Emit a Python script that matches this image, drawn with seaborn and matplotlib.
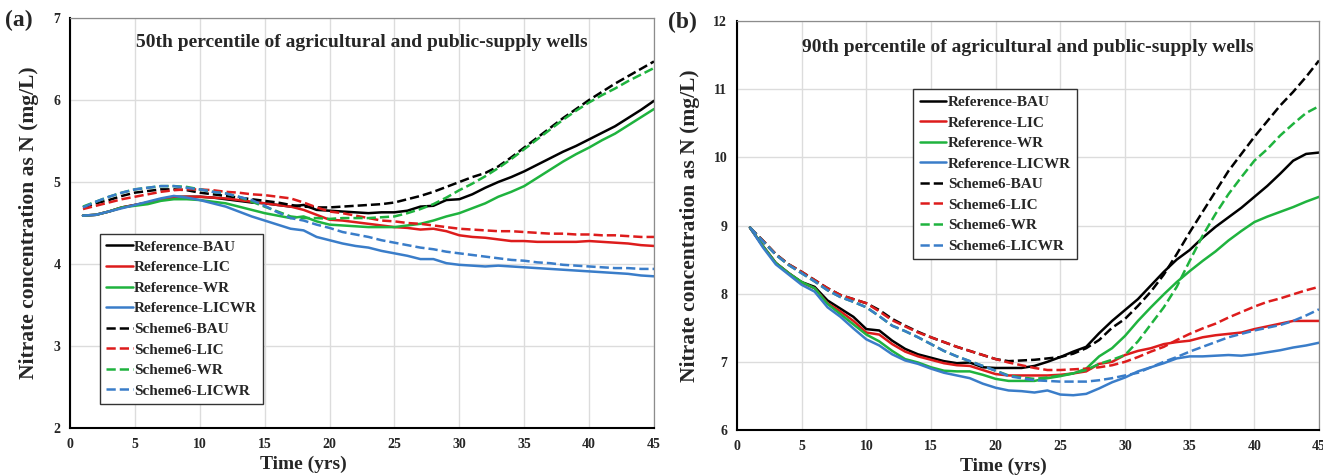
import numpy as np
import pandas as pd
import matplotlib
matplotlib.use("Agg")
import matplotlib.pyplot as plt
from matplotlib.ticker import MultipleLocator
import seaborn as sns

sns.set_style("white")
plt.rcParams['font.family'] = ['Liberation Serif', 'DejaVu Serif']
plt.rcParams['font.weight'] = 'bold'

years = list(range(1, 46))

series_names = ["Reference-BAU", "Reference-LIC", "Reference-WR", "Reference-LICWR",
                "Scheme6-BAU", "Scheme6-LIC", "Scheme6-WR", "Scheme6-LICWR"]

# ---- Panel (a): 50th percentile ----
a_ref_bau = [4.59, 4.60, 4.64, 4.69, 4.72, 4.75, 4.79, 4.82, 4.82, 4.82, 4.81, 4.79, 4.77, 4.75, 4.74,
             4.72, 4.70, 4.72, 4.66, 4.65, 4.64, 4.63, 4.62, 4.63, 4.63, 4.65, 4.70, 4.71, 4.78, 4.79,
             4.85, 4.93, 5.00, 5.06, 5.13, 5.21, 5.29, 5.37, 5.44, 5.52, 5.60, 5.68, 5.78, 5.88, 5.99]
a_ref_lic = [4.59, 4.60, 4.64, 4.69, 4.72, 4.75, 4.79, 4.81, 4.82, 4.82, 4.81, 4.80, 4.78, 4.76, 4.74,
             4.72, 4.70, 4.66, 4.60, 4.54, 4.53, 4.51, 4.49, 4.47, 4.45, 4.44, 4.42, 4.43, 4.40, 4.35,
             4.33, 4.32, 4.30, 4.28, 4.28, 4.27, 4.27, 4.27, 4.27, 4.28, 4.27, 4.26, 4.25, 4.23, 4.22]
a_ref_wr = [4.59, 4.60, 4.64, 4.69, 4.71, 4.73, 4.77, 4.79, 4.79, 4.78, 4.76, 4.74, 4.70, 4.66, 4.62,
            4.59, 4.56, 4.58, 4.52, 4.48, 4.47, 4.46, 4.45, 4.45, 4.45, 4.47, 4.49, 4.53, 4.58, 4.62,
            4.68, 4.74, 4.82, 4.88, 4.95, 5.05, 5.15, 5.25, 5.34, 5.42, 5.51, 5.59, 5.69, 5.79, 5.89]
a_ref_licwr = [4.59, 4.60, 4.64, 4.68, 4.72, 4.76, 4.80, 4.83, 4.81, 4.78, 4.74, 4.70, 4.64, 4.58, 4.53,
               4.48, 4.43, 4.41, 4.33, 4.29, 4.25, 4.22, 4.20, 4.16, 4.13, 4.10, 4.06, 4.06, 4.01, 3.99,
               3.98, 3.97, 3.98, 3.97, 3.96, 3.95, 3.94, 3.93, 3.92, 3.91, 3.90, 3.89, 3.88, 3.86, 3.85]
a_s6_bau = [4.69, 4.74, 4.78, 4.83, 4.87, 4.89, 4.91, 4.91, 4.90, 4.87, 4.85, 4.83, 4.81, 4.79, 4.77,
            4.75, 4.72, 4.70, 4.69, 4.69, 4.70, 4.71, 4.72, 4.73, 4.75, 4.79, 4.83, 4.88, 4.94, 5.00,
            5.06, 5.11, 5.19, 5.30, 5.42, 5.54, 5.66, 5.78, 5.89, 6.00, 6.10, 6.20, 6.29, 6.38, 6.47]
a_s6_lic = [4.67, 4.71, 4.75, 4.79, 4.82, 4.85, 4.88, 4.90, 4.91, 4.91, 4.90, 4.88, 4.87, 4.85, 4.84,
            4.82, 4.80, 4.75, 4.69, 4.64, 4.62, 4.59, 4.56, 4.53, 4.52, 4.50, 4.49, 4.47, 4.45, 4.43,
            4.42, 4.41, 4.40, 4.40, 4.39, 4.38, 4.37, 4.37, 4.36, 4.36, 4.35, 4.35, 4.34, 4.33, 4.33]
a_s6_wr = [4.70, 4.76, 4.82, 4.87, 4.91, 4.93, 4.95, 4.95, 4.94, 4.91, 4.88, 4.86, 4.82, 4.76, 4.70,
           4.64, 4.58, 4.56, 4.56, 4.55, 4.56, 4.56, 4.56, 4.57, 4.58, 4.62, 4.67, 4.73, 4.81, 4.90,
           4.98, 5.07, 5.17, 5.28, 5.40, 5.52, 5.64, 5.76, 5.87, 5.97, 6.06, 6.14, 6.23, 6.31, 6.39]
a_s6_licwr = [4.69, 4.76, 4.82, 4.87, 4.91, 4.93, 4.95, 4.95, 4.93, 4.91, 4.88, 4.86, 4.82, 4.78, 4.71,
              4.63, 4.56, 4.53, 4.48, 4.44, 4.39, 4.36, 4.33, 4.29, 4.26, 4.23, 4.20, 4.18, 4.15, 4.13,
              4.11, 4.09, 4.07, 4.05, 4.04, 4.02, 4.01, 3.99, 3.98, 3.97, 3.96, 3.95, 3.95, 3.94, 3.94]

# ---- Panel (b): 90th percentile ----
b_ref_bau = [8.97, 8.70, 8.45, 8.30, 8.17, 8.10, 7.90, 7.78, 7.66, 7.48, 7.46, 7.31, 7.19, 7.11, 7.06,
             7.01, 6.98, 6.99, 6.92, 6.91, 6.91, 6.91, 6.94, 7.00, 7.07, 7.15, 7.22, 7.42, 7.60, 7.76,
             7.92, 8.12, 8.32, 8.50, 8.64, 8.82, 8.98, 9.12, 9.26, 9.42, 9.58, 9.76, 9.95, 10.05, 10.07]
b_ref_lic = [8.97, 8.70, 8.45, 8.30, 8.16, 8.08, 7.86, 7.74, 7.60, 7.43, 7.40, 7.26, 7.15, 7.08, 7.03,
             6.98, 6.95, 6.94, 6.88, 6.82, 6.80, 6.80, 6.80, 6.80, 6.81, 6.83, 6.86, 6.97, 7.00, 7.10,
             7.16, 7.20, 7.26, 7.29, 7.31, 7.36, 7.39, 7.41, 7.43, 7.48, 7.52, 7.56, 7.60, 7.60, 7.60]
b_ref_wr = [8.97, 8.70, 8.45, 8.30, 8.17, 8.08, 7.85, 7.70, 7.55, 7.40, 7.30, 7.16, 7.04, 6.99, 6.92,
            6.87, 6.86, 6.86, 6.81, 6.75, 6.72, 6.72, 6.72, 6.76, 6.79, 6.83, 6.90, 7.08, 7.20, 7.38,
            7.60, 7.80, 7.99, 8.17, 8.33, 8.48, 8.62, 8.78, 8.92, 9.05, 9.13, 9.20, 9.27, 9.35, 9.42]
b_ref_licwr = [8.97, 8.68, 8.43, 8.28, 8.13, 8.03, 7.80, 7.66, 7.49, 7.33, 7.24, 7.11, 7.02, 6.97, 6.90,
               6.84, 6.80, 6.76, 6.68, 6.62, 6.58, 6.57, 6.55, 6.58, 6.52, 6.51, 6.53, 6.61, 6.70, 6.77,
               6.86, 6.92, 6.98, 7.05, 7.08, 7.08, 7.09, 7.10, 7.09, 7.11, 7.14, 7.17, 7.21, 7.24, 7.28]
b_s6_bau = [8.97, 8.78, 8.58, 8.43, 8.32, 8.20, 8.08, 7.98, 7.92, 7.86, 7.76, 7.63, 7.53, 7.44, 7.36,
            7.29, 7.22, 7.16, 7.10, 7.04, 7.01, 7.02, 7.03, 7.05, 7.07, 7.12, 7.20, 7.32, 7.50, 7.63,
            7.82, 8.03, 8.28, 8.58, 8.90, 9.20, 9.50, 9.80, 10.05, 10.30, 10.53, 10.76, 10.96, 11.18, 11.42]
b_s6_lic = [8.97, 8.78, 8.58, 8.43, 8.32, 8.20, 8.08, 7.98, 7.92, 7.86, 7.74, 7.61, 7.52, 7.43, 7.36,
            7.29, 7.22, 7.16, 7.10, 7.04, 6.99, 6.95, 6.91, 6.88, 6.88, 6.89, 6.90, 6.92, 6.95, 7.00,
            7.07, 7.15, 7.22, 7.32, 7.41, 7.49, 7.56, 7.65, 7.73, 7.81, 7.88, 7.93, 7.99, 8.05, 8.10]
b_s6_wr = [8.97, 8.77, 8.57, 8.42, 8.30, 8.18, 8.05, 7.95, 7.88, 7.80, 7.67, 7.53, 7.45, 7.36, 7.26,
           7.16, 7.08, 7.01, 6.94, 6.87, 6.80, 6.77, 6.75, 6.77, 6.80, 6.83, 6.88, 6.97, 7.03, 7.10,
           7.30, 7.55, 7.80, 8.10, 8.48, 8.85, 9.17, 9.46, 9.71, 9.95, 10.12, 10.32, 10.49, 10.65, 10.75]
b_s6_licwr = [8.97, 8.77, 8.57, 8.42, 8.30, 8.18, 8.05, 7.95, 7.88, 7.80, 7.67, 7.53, 7.45, 7.36, 7.26,
              7.16, 7.08, 7.01, 6.94, 6.87, 6.79, 6.76, 6.73, 6.72, 6.71, 6.71, 6.71, 6.73, 6.76, 6.80,
              6.84, 6.92, 7.00, 7.07, 7.15, 7.22, 7.29, 7.36, 7.41, 7.46, 7.50, 7.54, 7.60, 7.68, 7.77]

panel_a = [a_ref_bau, a_ref_lic, a_ref_wr, a_ref_licwr, a_s6_bau, a_s6_lic, a_s6_wr, a_s6_licwr]
panel_b = [b_ref_bau, b_ref_lic, b_ref_wr, b_ref_licwr, b_s6_bau, b_s6_lic, b_s6_wr, b_s6_licwr]

colors = ["#000000", "#dd1c1c", "#1fb33e", "#3a7dc9"] * 2
styles = ["-"] * 4 + ["--"] * 4

fig = plt.figure(figsize=(13.23, 4.75), dpi=100)
ax_a = fig.add_axes([70 / 1323, 1 - 428 / 475, 584 / 1323, 410 / 475])
ax_b = fig.add_axes([737 / 1323, 1 - 430 / 475, 582 / 1323, 409 / 475])


def draw(ax, data, ylim, ymajor, yminor, title, title_x, title_y, legend_loc, xlabel_x):
    for name, vals, c, ls in zip(series_names, data, colors, styles):
        df = pd.DataFrame({"Time": years, "Value": vals})
        line_kw = dict(linewidth=1.8)
        if ls == "--":
            line_kw["dashes"] = (4.5, 3)
        sns.lineplot(data=df, x="Time", y="Value", ax=ax, color=c, label=name,
                     linestyle=ls, **line_kw)
    ax.set_xlim(0, 45)
    ax.set_ylim(*ylim)
    ax.xaxis.set_major_locator(MultipleLocator(5))
    ax.xaxis.set_minor_locator(MultipleLocator(1))
    ax.yaxis.set_major_locator(MultipleLocator(ymajor))
    ax.yaxis.set_minor_locator(MultipleLocator(yminor))
    ax.grid(True, which="major", color="#dcdcdc", linewidth=1.0)
    ax.set_axisbelow(True)
    for side in ["top", "right"]:
        ax.spines[side].set_color("#8c8c8c")
        ax.spines[side].set_linewidth(0.9)
    for side in ["left", "bottom"]:
        ax.spines[side].set_color("black")
        ax.spines[side].set_linewidth(1.5)
    ax.tick_params(axis="both", which="major", direction="inout", length=6, width=1.3,
                   labelsize=10, color="black", pad=4)
    ax.tick_params(axis="both", which="minor", direction="inout", length=4, width=1.1,
                   color="black")
    for lbl in ax.get_xticklabels() + ax.get_yticklabels():
        lbl.set_fontweight("bold")
    ax.set_xlabel("Time (yrs)", fontsize=14, fontweight="bold")
    ax.xaxis.set_label_coords(xlabel_x, -0.068)
    ax.set_ylabel("Nitrate concentration as N (mg/L)", fontsize=15.5, fontweight="bold", labelpad=10)
    ax.text(title_x, title_y, title, transform=ax.transAxes, ha="center", va="center",
            fontsize=14, fontweight="bold")
    leg = ax.legend(loc="upper left", bbox_to_anchor=legend_loc, frameon=True, fancybox=False,
                    edgecolor="#333333", framealpha=1, handlelength=1.75, handletextpad=0.1,
                    borderpad=0.4, labelspacing=0.45, prop={"size": 11, "weight": "bold"})
    leg.get_frame().set_linewidth(1.0)


draw(ax_a, panel_a, (2, 7), 1, 0.5,
     "50th percentile of agricultural and public-supply wells", 0.5, 0.94, (0.038, 0.492), 0.40)
draw(ax_b, panel_b, (6, 12), 1, 0.2,
     "90th percentile of agricultural and public-supply wells", 0.5, 0.935, (0.29, 0.852), 0.458)

fig.text(5 / 1323, 1 - 20 / 475, "(a)", fontsize=17, fontweight="bold", va="center", ha="left")
fig.text(668 / 1323, 1 - 22 / 475, "(b)", fontsize=17, fontweight="bold", va="center", ha="left")

fig.savefig("out.png", dpi=100)
